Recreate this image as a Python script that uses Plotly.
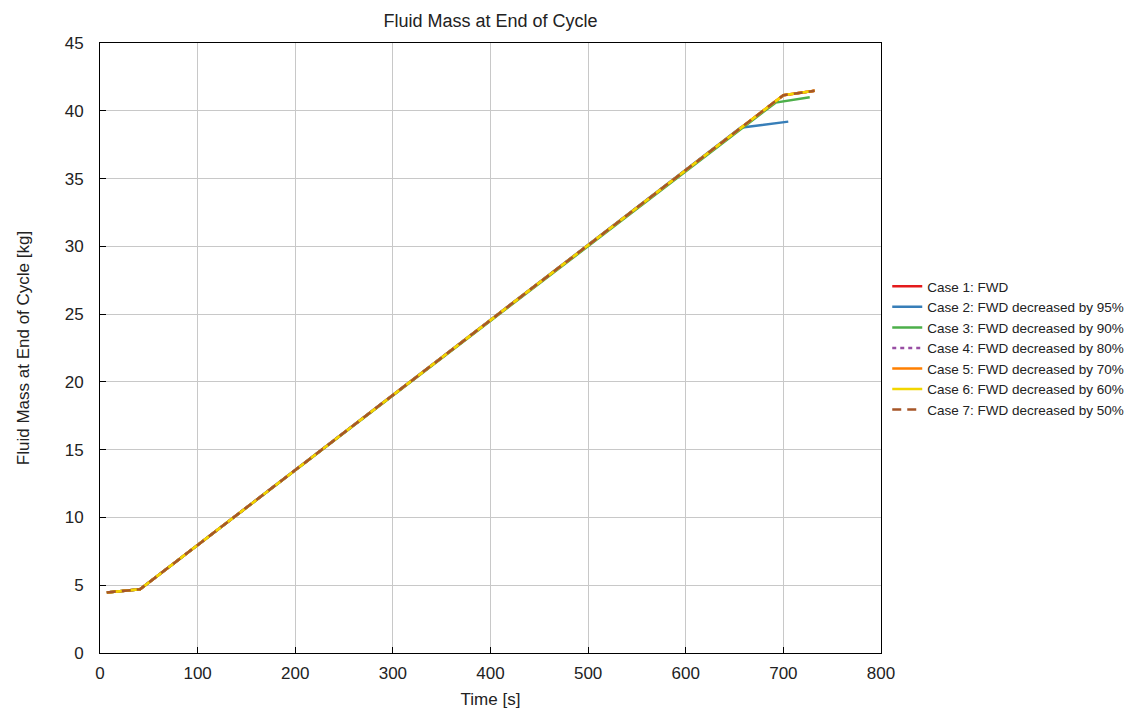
import plotly.graph_objects as go

# Data
case_names = [
    "Case 1: FWD",
    "Case 2: FWD decreased by 95%",
    "Case 3: FWD decreased by 90%",
    "Case 4: FWD decreased by 80%",
    "Case 5: FWD decreased by 70%",
    "Case 6: FWD decreased by 60%",
    "Case 7: FWD decreased by 50%",
]
colors = ["#e41a1c", "#377eb8", "#4daf4a", "#984ea3", "#ff7f00", "#f2d600", "#a65628"]
dashes = ["solid", "solid", "solid", "4px,4px", "solid", "solid", "9px,6px"]

t_full = [7, 41, 700, 732]
m_full = [4.47, 4.70, 41.15, 41.47]

t_case2 = [7, 41, 656, 705]
m_case2 = [4.47, 4.70, 38.75, 39.2]

t_case3 = [7, 41, 692, 727]
m_case3 = [4.47, 4.70, 40.6, 41.0]

times = [t_full, t_case2, t_case3, t_full, t_full, t_full, t_full]
masses = [m_full, m_case2, m_case3, m_full, m_full, m_full, m_full]

x_ticks = [0, 100, 200, 300, 400, 500, 600, 700, 800]
y_ticks = [0, 5, 10, 15, 20, 25, 30, 35, 40, 45]

fig = go.Figure()
for name, c, d, t, m in zip(case_names, colors, dashes, times, masses):
    fig.add_trace(go.Scatter(x=t, y=m, mode="lines", name=name,
                             line=dict(color=c, width=2.5, dash=d)))

font = "Liberation Sans, Arial, sans-serif"
fig.update_layout(
    width=1140, height=713,
    margin=dict(l=100, r=259, t=43, b=60, autoexpand=False),
    paper_bgcolor="white", plot_bgcolor="white",
    font=dict(family=font, color="#222222", size=14),
    title=dict(text="Fluid Mass at End of Cycle", x=(100 + 881) / 2 / 1140, xanchor="center",
               y=1 - 21 / 713, yanchor="middle", font=dict(size=18, color="#222222")),
    legend=dict(x=1.008, xanchor="left", y=0.5, yanchor="middle",
                font=dict(size=13.5, color="#222222"), itemwidth=30,
                tracegroupgap=0, bgcolor="rgba(0,0,0,0)"),
    showlegend=True,
)
fig.update_xaxes(range=[0, 800], tickvals=x_ticks, showgrid=True, gridcolor="#c8c8c8",
                 gridwidth=1, showline=True, linecolor="black", linewidth=1, mirror=True,
                 ticks="inside", ticklen=6, tickcolor="black", zeroline=False,
                 ticklabelstandoff=5, automargin=False,
                 title=dict(text="Time [s]", font=dict(size=17), standoff=10),
                 tickfont=dict(size=17))
fig.update_yaxes(range=[0, 45], tickvals=y_ticks, showgrid=True, gridcolor="#c8c8c8",
                 gridwidth=1, showline=True, linecolor="black", linewidth=1, mirror=True,
                 ticks="inside", ticklen=6, tickcolor="black", zeroline=False,
                 ticklabelstandoff=12, automargin=False,
                 title=dict(text="Fluid Mass at End of Cycle [kg]", font=dict(size=17), standoff=30),
                 tickfont=dict(size=17))

fig.write_html("out.html")
